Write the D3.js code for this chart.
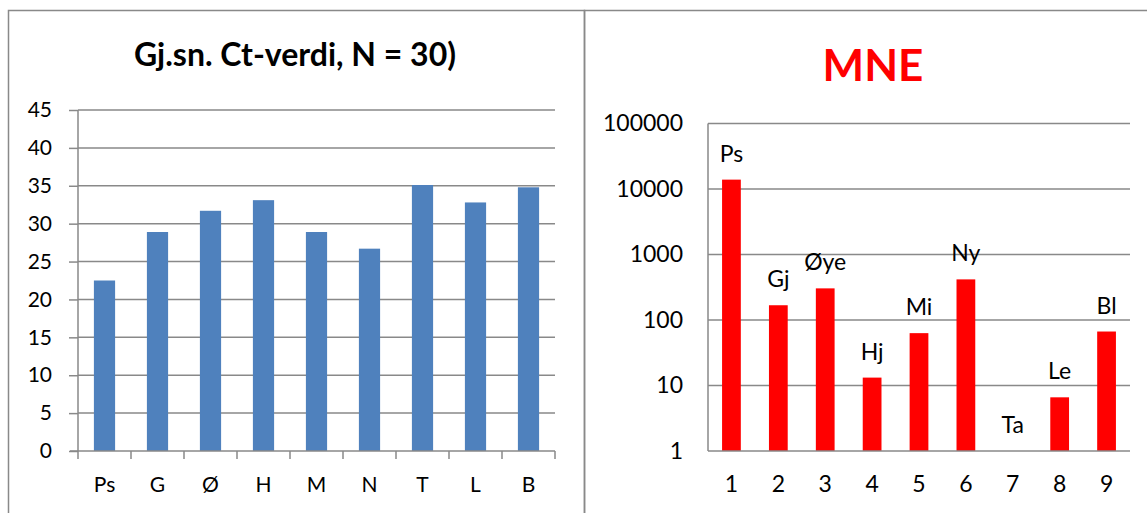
<!DOCTYPE html>
<html>
<head>
<meta charset="utf-8">
<script src="https://cdn.jsdelivr.net/npm/d3@7"></script>
<style>
  html, body { margin: 0; padding: 0; background: #fff; }
  svg { display: block; }
  text { font-family: Lato, "Open Sans", sans-serif; fill: #000; }
</style>
</head>
<body>
<svg id="chart" width="1147" height="513"></svg>
<script>
// ---- Left chart data ----
const leftTitle = "Gj.sn. Ct-verdi, N = 30)";
const leftCategories = ["Ps", "G", "Ø", "H", "M", "N", "T", "L", "B"];
const leftValues = [22.5, 28.9, 31.7, 33.1, 28.9, 26.7, 35.1, 32.8, 34.8];
const leftTicks = [0, 5, 10, 15, 20, 25, 30, 35, 40, 45];

// ---- Right chart data ----
const rightTitle = "MNE";
const rightCategories = ["1", "2", "3", "4", "5", "6", "7", "8", "9"];
const rightLabels = ["Ps", "Gj", "Øye", "Hj", "Mi", "Ny", "Ta", "Le", "Bl"];
const rightValues = [13900, 168, 304, 13.2, 63, 417, 1, 6.6, 66.7];
const rightTicks = [1, 10, 100, 1000, 10000, 100000];

const svg = d3.select("#chart");
const GRID = "#898989";

// Panel borders
svg.append("rect").attr("x", 8.5).attr("y", 10.5).attr("width", 576).attr("height", 520)
  .attr("fill", "none").attr("stroke", GRID).attr("stroke-width", 1.5);
svg.append("rect").attr("x", 584.5).attr("y", 10.5).attr("width", 600).attr("height", 520)
  .attr("fill", "none").attr("stroke", GRID).attr("stroke-width", 1.5);

// ================= LEFT CHART =================
{
  const x = d3.scaleBand().domain(leftCategories).range([78, 555]).padding(0);
  const y = d3.scaleLinear().domain([0, 45]).range([451, 110]);
  const g = svg.append("g");

  g.selectAll("line.grid").data(leftTicks.filter(t => t > 0)).join("line")
    .attr("x1", 78).attr("x2", 555)
    .attr("y1", d => y(d)).attr("y2", d => y(d))
    .attr("stroke", GRID).attr("stroke-width", 1.5);

  const bw = x.bandwidth() * 0.4;
  g.selectAll("rect.bar").data(leftValues).join("rect")
    .attr("x", (d, i) => x(leftCategories[i]) + (x.bandwidth() - bw) / 2)
    .attr("y", d => y(d))
    .attr("width", bw)
    .attr("height", d => y(0) - y(d))
    .attr("fill", "#4F81BD");

  const ya = g.append("g").attr("transform", "translate(78,0)")
    .call(d3.axisLeft(y).tickValues(leftTicks).tickSize(9).tickPadding(17).tickFormat(d3.format("d")));
  ya.select(".domain").attr("stroke", GRID).attr("stroke-width", 1.5).attr("d", `M0,${y(45)}V${y(0)}`);
  ya.selectAll(".tick line").attr("stroke", GRID).attr("stroke-width", 1.5);
  ya.selectAll(".tick text").style("font-size", "21px").attr("fill", "#000");

  const xa = g.append("g").attr("transform", "translate(0,451)")
    .call(d3.axisBottom(x).tickSize(0).tickPadding(26));
  xa.select(".domain").attr("stroke", GRID).attr("stroke-width", 1.5).attr("d", `M70,0H555`);
  xa.selectAll(".tick text").style("font-size", "21px").attr("fill", "#000");
  const bounds = leftCategories.map(c => x(c)).concat([x.range()[1]]);
  g.selectAll("line.xt").data(bounds).join("line")
    .attr("x1", d => d).attr("x2", d => d).attr("y1", 451).attr("y2", 459)
    .attr("stroke", GRID).attr("stroke-width", 1.5);

  svg.append("text").attr("x", 295).attr("y", 66).attr("text-anchor", "middle")
    .style("font-size", "32px").style("font-weight", "bold").text(leftTitle);
}

// ================= RIGHT CHART =================
{
  const x = d3.scaleBand().domain(rightCategories).range([708, 1130]).padding(0);
  const y = d3.scaleLog().domain([1, 100000]).range([451, 123.5]);
  const g = svg.append("g");

  g.selectAll("line.grid").data(rightTicks.filter(t => t > 1)).join("line")
    .attr("x1", 708).attr("x2", 1130)
    .attr("y1", d => y(d)).attr("y2", d => y(d))
    .attr("stroke", GRID).attr("stroke-width", 1.5);

  const bw = x.bandwidth() * 0.4;
  g.selectAll("rect.bar").data(rightValues).join("rect")
    .attr("x", (d, i) => x(rightCategories[i]) + (x.bandwidth() - bw) / 2)
    .attr("y", d => y(d))
    .attr("width", bw)
    .attr("height", d => y(1) - y(d))
    .attr("fill", "#FF0000");

  g.selectAll("text.lbl").data(rightValues).join("text")
    .attr("x", (d, i) => x(rightCategories[i]) + x.bandwidth() / 2)
    .attr("y", d => y(d) - 18)
    .attr("text-anchor", "middle")
    .style("font-size", "23px")
    .text((d, i) => rightLabels[i]);

  const ya = g.append("g").attr("transform", "translate(708,0)")
    .call(d3.axisLeft(y).tickValues(rightTicks).tickSize(0).tickPadding(25).tickFormat(d3.format("d")));
  ya.select(".domain").attr("stroke", GRID).attr("stroke-width", 1.5).attr("d", `M0,${y(100000)}V${y(1)}`);
  ya.selectAll(".tick text").style("font-size", "23px").attr("fill", "#000");

  const xa = g.append("g").attr("transform", "translate(0,451)")
    .call(d3.axisBottom(x).tickSize(0).tickPadding(25));
  xa.select(".domain").attr("stroke", GRID).attr("stroke-width", 1.5).attr("d", `M708,0H1130`);
  xa.selectAll(".tick text").style("font-size", "23px").attr("fill", "#000");

  svg.append("text").attr("x", 873).attr("y", 81).attr("text-anchor", "middle")
    .style("font-size", "44px").style("font-weight", "bold").style("fill", "#FF0000").text(rightTitle);
}
</script>
</body>
</html>
